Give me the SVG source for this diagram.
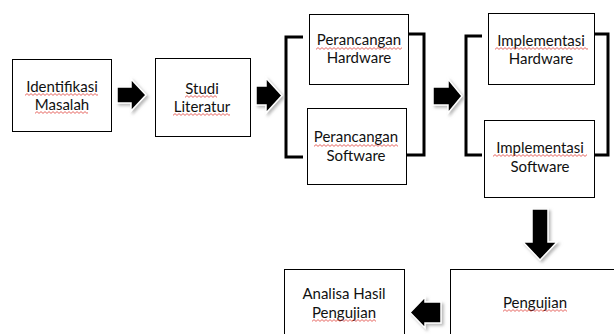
<svg xmlns="http://www.w3.org/2000/svg" width="614" height="334" viewBox="0 0 614 334">
<style>
.box{fill:#fff;stroke:#000;stroke-width:1}
.t{font-family:Lato,"Open Sans","Liberation Sans",sans-serif;font-size:15px;fill:#111;text-anchor:middle}
.br{fill:none;stroke:#000;stroke-width:3}
.ar{fill:#000;stroke:#fff;stroke-width:1.5;filter:url(#sh)}
.sq{fill:url(#wave)}
</style>
<defs>
<pattern id="wave" width="4" height="3" patternUnits="userSpaceOnUse">
<path d="M0 2.4 L2 0.6 L4 2.4" fill="none" stroke="#e0403a" stroke-width="0.8"/>
</pattern>
<filter id="sh" x="-30%" y="-30%" width="160%" height="160%">
<feGaussianBlur in="SourceAlpha" stdDeviation="1.5"/>
<feOffset dx="1.5" dy="1.5" result="b"/>
<feFlood flood-color="#888" flood-opacity="0.6"/>
<feComposite in2="b" operator="in"/>
<feMerge><feMergeNode/><feMergeNode in="SourceGraphic"/></feMerge>
</filter>
</defs>
<rect width="614" height="334" fill="#fff"/>

<g id="connectors">
<path class="br" d="M303 37 H286 V157 H303"/>
<path class="br" d="M408 34 H424 V155 H406"/>
<path class="br" d="M482 36 H466 V155 H482"/>
<path class="br" d="M594 34 H608 V155 H594"/>
<path class="ar" d="M117 87 H131 V79 L146 95 L131 111 V103 H117 Z"/>
<path class="ar" d="M256 86 H266 V78 L282 95.5 L266 113 V105 H256 Z"/>
<path class="ar" d="M433 87 H448 V79 L462 96 L448 113 V105 H433 Z"/>
<path class="ar" d="M532 209 H548 V242 H557 L540 260 L523 242 H532 Z"/>
<path class="ar" d="M441 302 H425 V297 L410 312.5 L425 328 V323 H441 Z"/>
</g>

<g id="identifikasi">
<rect class="box" x="12.5" y="59.5" width="99" height="72"/>
<text class="t" x="62" y="92">Identifikasi</text>
<text class="t" x="62" y="110">Masalah</text>
<g transform="translate(25,93)"><rect class="sq" width="73" height="3"/></g>
<g transform="translate(35,111)"><rect class="sq" width="53" height="3"/></g>
</g>

<g id="studi">
<rect class="box" x="155.5" y="58.5" width="95" height="78"/>
<text class="t" x="202" y="94">Studi</text>
<text class="t" x="202" y="112">Literatur</text>
<g transform="translate(185,95)"><rect class="sq" width="32" height="3"/></g>
<g transform="translate(173,113)"><rect class="sq" width="57" height="3"/></g>
</g>

<g id="perancangan-hw">
<rect class="box" x="309.5" y="14.5" width="99" height="70"/>
<text class="t" x="359" y="45">Perancangan</text>
<text class="t" x="359" y="63">Hardware</text>
<g transform="translate(316,47)"><rect class="sq" width="86" height="3"/></g>
</g>

<g id="perancangan-sw">
<rect class="box" x="307.5" y="108.5" width="99" height="76"/>
<text class="t" x="356" y="142">Perancangan</text>
<text class="t" x="356" y="161">Software</text>
<g transform="translate(314,144)"><rect class="sq" width="84" height="3"/></g>
</g>

<g id="implementasi-hw">
<rect class="box" x="488.5" y="13.5" width="106" height="71"/>
<text class="t" x="541" y="46">Implementasi</text>
<text class="t" x="541" y="64">Hardware</text>
<g transform="translate(495,47)"><rect class="sq" width="93" height="3"/></g>
</g>

<g id="implementasi-sw">
<rect class="box" x="484.5" y="120.5" width="110" height="77"/>
<text class="t" x="540" y="153">Implementasi</text>
<text class="t" x="540" y="172">Software</text>
<g transform="translate(493,154)"><rect class="sq" width="94" height="3"/></g>
</g>

<g id="pengujian">
<rect class="box" x="450.5" y="269.5" width="170" height="80"/>
<text class="t" x="535" y="308">Pengujian</text>
<g transform="translate(503,309)"><rect class="sq" width="64" height="3"/></g>
</g>

<g id="analisa">
<rect class="box" x="284.5" y="269.5" width="120" height="80"/>
<text class="t" x="344" y="299">Analisa Hasil</text>
<text class="t" x="344" y="318">Pengujian</text>
<g transform="translate(312,319)"><rect class="sq" width="64" height="3"/></g>
</g>
</svg>
